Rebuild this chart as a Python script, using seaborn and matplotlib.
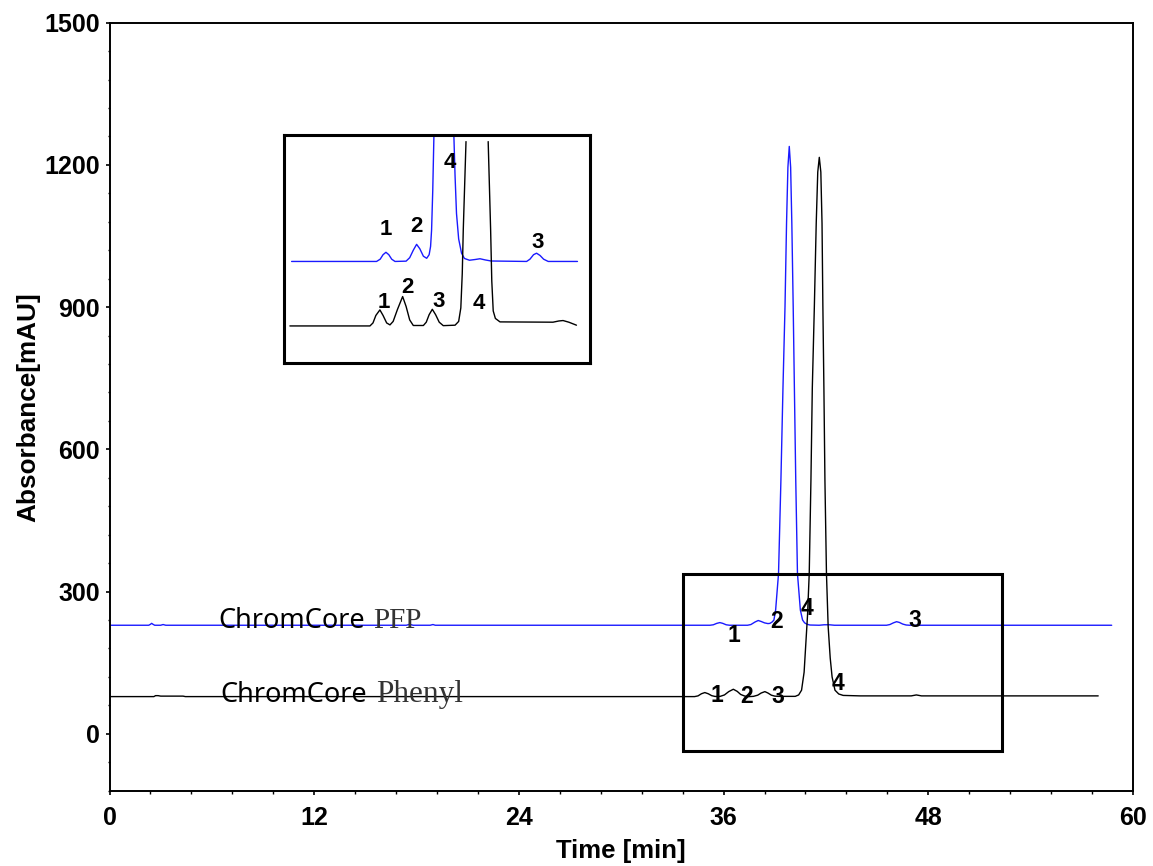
"""
HPLC chromatograms of ChromCore PFP and ChromCore Phenyl columns, with a zoomed inset.
"""
import pandas as pd
import seaborn as sns
import matplotlib.pyplot as plt
from matplotlib.patches import Rectangle
from matplotlib.ticker import MultipleLocator

# ---- main traces (time [min], absorbance [mAU]) ----
pfp_time = [0.0, 2.3, 2.4, 2.47, 2.55, 2.65, 3.0, 3.14, 3.3, 17.4, 17.6, 17.8,
            18.8, 18.96, 19.1,
            35.2, 35.4, 35.6, 35.78, 35.95, 36.15, 36.35,
            37.4, 37.6, 37.85, 38.03, 38.2, 38.4, 38.6, 38.72,
            38.85, 38.95, 39.05, 39.22, 39.36, 39.48, 39.6, 39.69, 39.77, 39.85,
            39.93, 40.0, 40.08, 40.15, 40.23, 40.33, 40.5, 40.63, 40.75, 40.9,
            41.06, 41.6, 41.9, 42.2, 42.5,
            45.55, 45.75, 45.95, 46.14, 46.3, 46.5, 46.7, 46.9, 58.75]
pfp_abs = [229, 229, 231, 233, 231, 229, 229, 230.5, 229, 229, 231, 229,
           229, 230.5, 229,
           229, 230, 233, 234.6, 233, 230, 229,
           229, 230.5, 236, 239, 237, 234, 232.5, 233,
           236, 240, 261, 338, 535, 729, 901, 1077, 1195, 1239,
           1195, 1077, 901, 729, 535, 338, 261, 240, 234, 231,
           229.5, 229, 230, 230, 229,
           229, 230.5, 234, 236.5, 235, 231.5, 229.5, 229, 229]

phenyl_time = [0.0, 2.6, 2.7, 2.85, 3.0, 4.31, 4.45,
               34.3, 34.5, 34.7, 34.9, 35.1, 35.3, 35.5,
               35.8, 36.05, 36.3, 36.57, 36.8, 37.0, 37.25, 37.5,
               37.75, 38.0, 38.2, 38.42, 38.6, 38.8, 39.0, 39.2,
               40.2, 40.4, 40.57, 40.72, 40.82, 40.92, 41.02, 41.12, 41.2, 41.32,
               41.43, 41.52, 41.61, 41.7, 41.77, 41.82, 41.88, 41.94, 42.03, 42.13,
               42.25, 42.36, 42.53, 42.75, 43.01, 44.0, 47.0, 47.3, 47.6, 57.96]
phenyl_abs = [78.5, 78.5, 80.5, 80.5, 79.5, 79.5, 78.5,
              78.5, 80, 84.5, 87, 84.5, 80.5, 78.8,
              79, 82, 89, 94, 89.5, 83, 79.5, 78.5,
              79, 81.5, 86, 89, 86, 81.5, 79.5, 79,
              79, 82, 92, 130, 190, 250, 338, 535, 729, 901,
              1077, 1185, 1216, 1185, 1077, 901, 729, 535, 338, 226,
              160, 120, 92, 84, 81, 80, 80, 82, 80, 80]

# ---- inset traces (time [min], relative absorbance) ----
inset_pfp_time = [29.15, 35.05, 35.3, 35.5, 35.7, 35.9, 36.1, 36.33,
                  37.1, 37.35, 37.6, 37.83, 38.05, 38.3, 38.53, 38.7, 38.8, 38.87,
                  38.95, 39.03, 39.7, 40.42, 40.5, 40.6, 40.75, 40.95, 41.15, 41.5,
                  41.9, 42.23, 42.6, 43.0, 45.47, 45.7, 45.95, 46.16, 46.4, 46.65,
                  46.97, 49.0]
inset_pfp_abs = [43, 43, 44.5, 47.5, 49.1, 47.5, 44.5, 43,
                 43.2, 45.5, 50.5, 54.4, 51.5, 46.5, 45.1, 47.5, 53, 64,
                 90, 126, 200, 126, 100, 75, 58, 48.5, 45, 43.8,
                 44.3, 44.8, 44, 43.3, 43, 44.5, 47.5, 48.5, 47, 44.5,
                 43, 43]

inset_phenyl_time = [29.03, 34.59, 34.8, 35.0, 35.28, 35.5, 35.75, 35.98,
                     36.2, 36.5, 36.86, 37.1, 37.35, 37.6, 38.3, 38.5, 38.7, 38.92,
                     39.15, 39.4, 39.68, 40.5, 40.75, 40.9, 41.0, 41.07, 41.26,
                     42.8, 42.97, 43.05, 43.15, 43.3, 43.62, 47.3, 47.7, 48.0,
                     48.4, 48.93]
inset_phenyl_abs = [0, 0, 2, 7, 10.7, 7, 2, 0.7,
                    3, 11, 19.6, 13, 4, 0.3, 0.3, 2.5, 7.5, 11.1,
                    7.5, 2.5, 0.2, 0.5, 3, 12, 35, 64, 122.9,
                    122.9, 64, 30, 10, 5, 2.7, 2.5, 3.3, 3.6,
                    2.5, 0.5]
inset_phenyl_break = 27  # the truncated peak top is not joined

# ---- peak labels ----
pfp_labels = ["1", "2", "4", "3"]
pfp_label_t = [36.6, 39.11, 40.9, 47.22]
pfp_label_y = [208, 236, 264.6, 240]
phenyl_labels = ["1", "2", "3", "4"]
phenyl_label_t = [35.63, 37.35, 39.2, 42.72]
phenyl_label_y = [81.6, 78, 79.5, 106.3]

inset_pfp_label_t = [35.7, 37.83, 40.15, 46.2]
inset_pfp_label_y = [64, 66.2, 108.9, 55.5]
inset_phenyl_label_t = [35.58, 37.2, 39.33, 42.18]
inset_phenyl_label_y = [15.5, 25.8, 16.2, 15.1]

BLUE = "#1a1aff"

sns.set_theme(style="ticks")
plt.rcParams["font.family"] = ["Liberation Sans", "DejaVu Sans"]
plt.rcParams["font.weight"] = "bold"
for key in ["text.color", "axes.labelcolor", "xtick.color", "ytick.color",
            "axes.edgecolor"]:
    plt.rcParams[key] = "black"

fig = plt.figure(figsize=(11.53, 8.66), dpi=100)
ax = fig.add_axes([0.09497, 0.08695, 0.88768, 0.88684])

pfp = pd.DataFrame({"time": pfp_time, "abs": pfp_abs})
phenyl = pd.DataFrame({"time": phenyl_time, "abs": phenyl_abs})
sns.lineplot(data=pfp, x="time", y="abs", color=BLUE, lw=1.0,
             estimator=None, sort=False, ax=ax)
sns.lineplot(data=phenyl, x="time", y="abs", color="black", lw=1.0,
             estimator=None, sort=False, ax=ax)

for lab, t, y in zip(pfp_labels, pfp_label_t, pfp_label_y):
    ax.text(t, y, lab, fontsize=16.5, fontweight="bold", ha="center", va="center")
for lab, t, y in zip(phenyl_labels, phenyl_label_t, phenyl_label_y):
    ax.text(t, y, lab, fontsize=16.5, fontweight="bold", ha="center", va="center")

# column names
ax.text(6.38, 222.4, "ChromCore", fontsize=19.5, family="Noto Sans",
        fontweight="normal", color="black", va="baseline")
ax.text(15.43, 222.4, "PFP", fontsize=21, family="Liberation Serif",
        fontweight="normal", color="#333333", va="baseline")
ax.text(6.52, 67.5, "ChromCore", fontsize=19.5, family="Noto Sans",
        fontweight="normal", color="black", va="baseline")
ax.text(15.62, 67.5, "Phenyl", fontsize=22.5, family="Liberation Serif",
        fontweight="normal", color="#333333", va="baseline")

# zoom region box
ax.add_patch(Rectangle((33.63, -35.9), 52.3 - 33.63, 337 + 35.9,
                       fill=False, ec="black", lw=2.2, zorder=3))

ax.set_xlim(0, 60)
ax.set_ylim(-120, 1500)
ax.xaxis.set_major_locator(MultipleLocator(12))
ax.xaxis.set_minor_locator(MultipleLocator(2.4))
ax.yaxis.set_major_locator(MultipleLocator(300))
ax.yaxis.set_minor_locator(MultipleLocator(60))
ax.tick_params(which="major", direction="out", length=3.2, width=1.2, labelsize=18)
ax.tick_params(which="minor", direction="out", length=1.8, width=1.0)
ax.tick_params(axis="x", which="major", pad=8)
ax.tick_params(axis="y", which="major", pad=3.5)
for lbl in ax.get_xticklabels() + ax.get_yticklabels():
    lbl.set_fontweight("bold")
for side in ["left", "bottom", "top", "right"]:
    ax.spines[side].set_visible(True)
    ax.spines[side].set_linewidth(1.4)
    ax.spines[side].set_color("black")

ax.set_xlabel("Time [min]", fontsize=18.5, fontweight="bold")
ax.set_ylabel("Absorbance[mAU]", fontsize=18.8, fontweight="bold")
ax.xaxis.set_label_coords(0.5, -0.0635)
ax.yaxis.set_label_coords(-0.068, 0.5)

# ---- inset ----
axin = fig.add_axes([0.2463, 0.5805, 0.2654, 0.2636])
ipfp = pd.DataFrame({"time": inset_pfp_time, "abs": inset_pfp_abs})
sns.lineplot(data=ipfp, x="time", y="abs", color=BLUE, lw=1.0,
             estimator=None, sort=False, ax=axin)
b = inset_phenyl_break
sns.lineplot(x=inset_phenyl_time[:b], y=inset_phenyl_abs[:b], color="black", lw=1.0,
             estimator=None, sort=False, ax=axin)
sns.lineplot(x=inset_phenyl_time[b:], y=inset_phenyl_abs[b:], color="black", lw=1.0,
             estimator=None, sort=False, ax=axin)

for lab, t, y in zip(pfp_labels, inset_pfp_label_t, inset_pfp_label_y):
    axin.text(t, y, lab, fontsize=16, fontweight="bold", ha="center", va="center")
for lab, t, y in zip(phenyl_labels, inset_phenyl_label_t, inset_phenyl_label_y):
    axin.text(t, y, lab, fontsize=16, fontweight="bold", ha="center", va="center")

axin.set_xlim(28.62, 49.87)
axin.set_ylim(-24.9, 127.3)
axin.set_xticks([])
axin.set_yticks([])
axin.set_xlabel("")
axin.set_ylabel("")
for side in ["left", "bottom", "top", "right"]:
    axin.spines[side].set_visible(True)
    axin.spines[side].set_linewidth(2.2)
    axin.spines[side].set_color("black")

fig.savefig("out.png", dpi=100)
